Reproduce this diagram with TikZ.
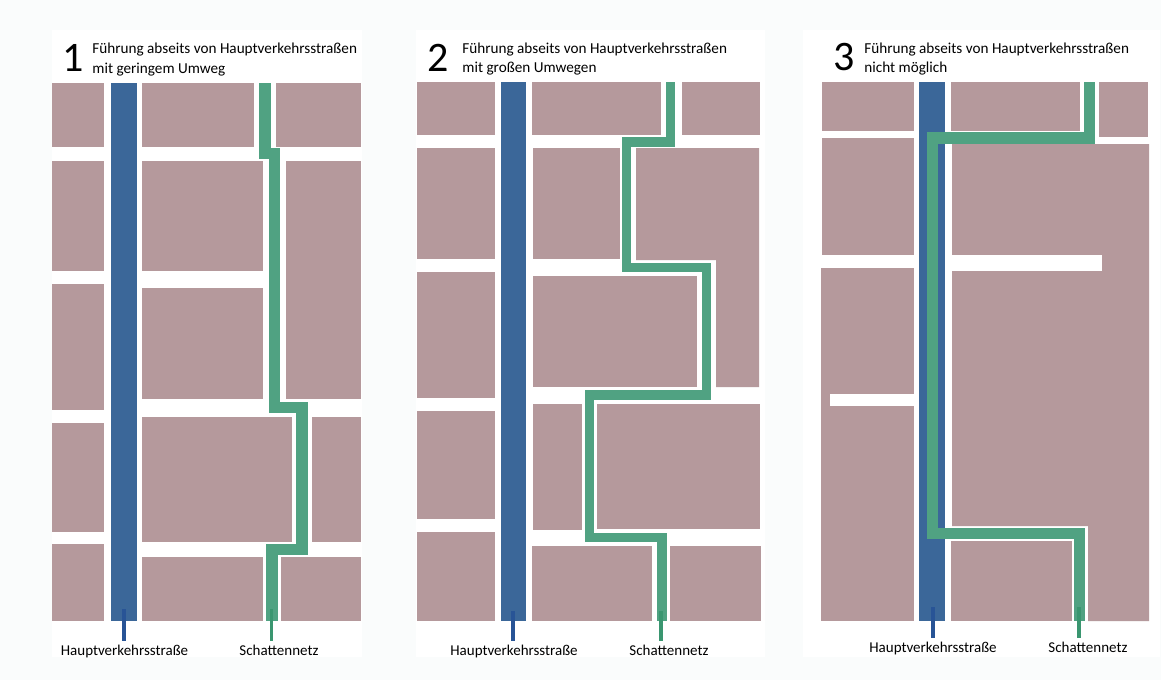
\documentclass[tikz,border=0pt]{standalone}
\usepackage{fontspec}
\setmainfont{Carlito}

\definecolor{blockrose}{RGB}{181,153,156}
\definecolor{roadblue}{RGB}{59,103,153}
\definecolor{leadblue}{RGB}{40,84,150}
\definecolor{netgreen}{RGB}{80,162,130}
\definecolor{leadgreen}{RGB}{58,150,112}
\definecolor{pagegrey}{RGB}{250,252,252}

\begin{document}
\begin{tikzpicture}[x=0.5pt, y=-0.5pt,
	block/.style={fill=blockrose},
	gap/.style={fill=white},
	mainroad/.style={fill=roadblue},
	schatten/.style={draw=netgreen, line width=#1, line join=miter},
	hsleader/.style={draw=leadblue, line width=2pt},
	snleader/.style={draw=leadgreen, line width=1.6pt},
	titlenum/.style={anchor=base west, inner sep=0pt, font=\fontsize{21}{21}\selectfont},
	titletext/.style={anchor=base west, inner sep=0pt, font=\fontsize{7.6}{9}\selectfont},
	roadlabel/.style={anchor=base, inner sep=1.5pt, font=\fontsize{7.5}{9}\selectfont},
	]
	
	\useasboundingbox (0,0) rectangle (1161,680);
	\fill[pagegrey] (0,0) rectangle (1161,680);
	\fill[white] (52,30) rectangle (362,657);
	\fill[white] (416,30) rectangle (765,657);
	\fill[white] (803,30) rectangle (1160,657);
	
	%Headings
	\node[titlenum]		(num1)	at (62,71)		{1};
	\node[titletext]	(head1)	at (92,53.5)	{Führung abseits von Hauptverkehrsstraßen};
	\node[titletext]	(sub1)	at (92,73)		{mit geringem Umweg};
	\node[titlenum]		(num2)	at (427,71)		{2};
	\node[titletext]	(head2)	at (462,53)		{Führung abseits von Hauptverkehrsstraßen};
	\node[titletext]	(sub2)	at (462,72.5)	{mit großen Umwegen};
	\node[titlenum]		(num3)	at (833,70)		{3};
	\node[titletext]	(head3)	at (864,53)		{Führung abseits von Hauptverkehrsstraßen};
	\node[titletext]	(sub3)	at (864,72.5)	{nicht möglich};
	
	%Blocks 1
	\fill[block] (52,83) rectangle (104,147);
	\fill[block] (52,161) rectangle (104,271);
	\fill[block] (52,284) rectangle (104,410);
	\fill[block] (52,423) rectangle (104,532);
	\fill[block] (52,544) rectangle (104,621);
	\fill[block] (142,83) rectangle (254,147);
	\fill[block] (142,161) rectangle (263,271);
	\fill[block] (142,288) rectangle (263,399);
	\fill[block] (142,417) rectangle (292,542);
	\fill[block] (142,557) rectangle (263,621);
	\fill[block] (276,83) rectangle (361,147);
	\fill[block] (286,161) rectangle (361,399);
	\fill[block] (312,417) rectangle (361,542);
	\fill[block] (281,557) rectangle (361,621);
	
	%Blocks 2
	\fill[block] (417,82) rectangle (495,135);
	\fill[block] (417,148) rectangle (495,259);
	\fill[block] (417,272) rectangle (495,398);
	\fill[block] (417,411) rectangle (495,519);
	\fill[block] (417,532) rectangle (495,621);
	\fill[block] (532,82) rectangle (661,135);
	\fill[block] (533,148) rectangle (620,259);
	\fill[block] (533,276) rectangle (697,387);
	\fill[block] (533,404) rectangle (582,530);
	\fill[block] (532,546) rectangle (652,621);
	\fill[block] (682,82) rectangle (760,135);
	\fill[block] (636,148) -- (759,148) -- (759,387) -- (716,387) -- (716,260) -- (636,260) -- cycle;
	\fill[block] (597,404) rectangle (760,529);
	\fill[block] (670,546) rectangle (761,621);
	
	%Blocks 3
	\fill[block] (822,82) rectangle (914,131);
	\fill[block] (822,138) rectangle (914,255);
	\fill[block] (821,268) rectangle (914,621);
	\fill[gap] (830,394) rectangle (914,406);
	\fill[block] (951,82) rectangle (1080,131);
	\fill[block] (1099,82) rectangle (1148,137);
	\fill[block] (952,144) -- (1149,144) -- (1149,621) -- (1088,621) -- (1088,526) -- (952,526) -- cycle;
	\fill[gap] (952,255) rectangle (1102,271);
	\fill[block] (951,541) rectangle (1072,621);
	
	%Main roads
	\fill[mainroad] (111,83) rectangle (137,621);
	\fill[mainroad] (501,82) rectangle (526,621);
	\fill[mainroad] (919,82) rectangle (945,621);
	
	%Shadow network
	\draw[schatten=5.6pt] (265,83) -- (265,153.5) -- (274.5,153.5) -- (274.5,407.5) -- (302,407.5) -- (302,549.5) -- (272,549.5) -- (272,621);
	\draw[schatten=4.7pt] (670.5,82) -- (670.5,142) -- (626.5,142) -- (626.5,267.5) -- (706.5,267.5) -- (706.5,395) -- (589.5,395) -- (589.5,537.5) -- (662,537.5) -- (662,621);
	\draw[schatten=5.8pt] (1089.5,82) -- (1089.5,138) -- (932.5,138) -- (932.5,533.5) -- (1079.5,533.5) -- (1079.5,621);
	
	%Labels
	\node[roadlabel]	(hlab1)	at (124.5,655)	{Hauptverkehrsstraße};
	\node[roadlabel]	(slab1)	at (279,655)	{Schattennetz};
	\node[roadlabel]	(hlab2)	at (514,655)	{Hauptverkehrsstraße};
	\node[roadlabel]	(slab2)	at (669,655)	{Schattennetz};
	\node[roadlabel]	(hlab3)	at (933,652)	{Hauptverkehrsstraße};
	\node[roadlabel]	(slab3)	at (1088,652)	{Schattennetz};
	
	%Leaders
	\coordinate (hs1) at (124,609);
	\coordinate (sn1) at (271.5,609);
	\coordinate (hs2) at (513,611);
	\coordinate (sn2) at (661,611);
	\coordinate (hs3) at (933,607);
	\coordinate (sn3) at (1079,607);
	\draw[hsleader] (hs1) -- (hs1 |- hlab1.north);
	\draw[snleader] (sn1) -- (sn1 |- slab1.north);
	\draw[hsleader] (hs2) -- (hs2 |- hlab2.north);
	\draw[snleader] (sn2) -- (sn2 |- slab2.north);
	\draw[hsleader] (hs3) -- (hs3 |- hlab3.north);
	\draw[snleader] (sn3) -- (sn3 |- slab3.north);
	
\end{tikzpicture}
\end{document}
